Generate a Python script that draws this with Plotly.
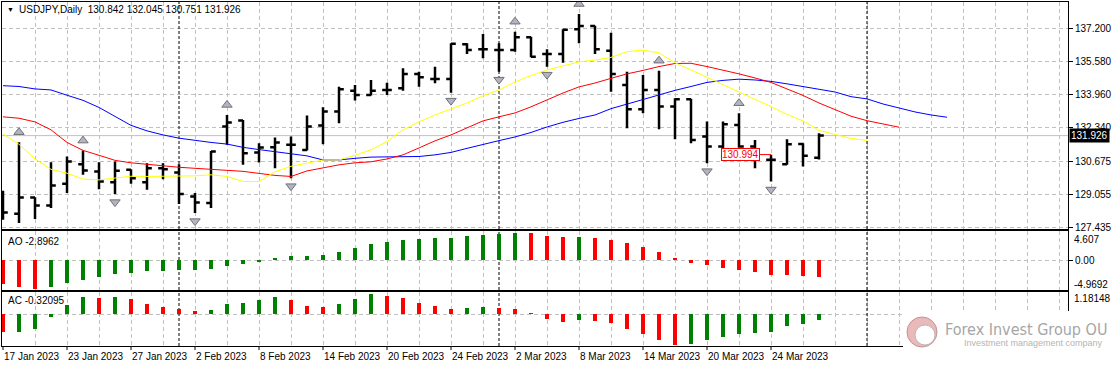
import numpy as np
import pandas as pd
import plotly.graph_objects as go

# ---------------- data ----------------
symbol = "USDJPY,Daily"
dates = pd.bdate_range("2023-01-17", "2023-03-29")          # 52 daily bars
month_starts = ["2023-02-01", "2023-03-01", "2023-04-03"]   # period separators

open_ = [128.525, 128.084, 128.884, 128.491, 129.556, 130.523, 130.160, 129.640, 130.244, 129.640,
         130.327, 130.111, 128.933, 128.609, 132.369, 132.664, 131.093, 131.358, 131.471, 131.225,
         132.418, 133.106, 134.136, 133.925, 134.171, 134.254, 134.956, 134.711, 134.711, 136.414,
         136.169, 136.134, 136.134, 136.758, 135.938, 135.938, 137.151, 137.313, 136.100, 134.416,
         133.223, 134.171, 133.351, 133.714, 131.878, 131.387, 132.453, 131.387, 130.734, 130.523,
         131.520, 130.842]
high = [129.213, 131.603, 128.900, 130.622, 130.896, 131.191, 130.622, 130.651, 130.278, 130.572,
        130.572, 130.523, 129.100, 131.176, 132.944, 132.698, 131.554, 131.829, 131.878, 132.909,
        133.322, 134.333, 134.416, 134.662, 134.529, 135.236, 135.069, 135.315, 136.463, 136.463,
        136.920, 136.463, 137.033, 136.780, 136.169, 137.151, 137.902, 137.330, 136.984, 135.069,
        134.907, 135.118, 133.763, 133.740, 132.615, 132.615, 133.027, 131.716, 130.980, 131.751,
        131.554, 132.045]
low = [127.789, 127.627, 127.823, 128.363, 129.100, 129.998, 129.296, 129.051, 129.556, 129.262,
       129.787, 128.560, 128.118, 128.363, 131.471, 130.489, 130.602, 130.327, 129.836, 131.200,
       131.505, 132.536, 133.646, 133.900, 133.925, 134.136, 134.333, 134.500, 134.038, 135.938,
       135.727, 135.069, 136.051, 135.776, 135.315, 135.511, 136.463, 135.938, 134.087, 132.291,
       133.027, 132.242, 131.751, 131.554, 130.572, 131.063, 131.324, 130.327, 129.669, 130.489,
       130.406, 130.751]
close = [128.147, 128.884, 128.491, 129.473, 130.651, 130.209, 129.669, 130.194, 129.836, 130.327,
         130.278, 129.051, 128.638, 131.142, 132.565, 131.063, 131.338, 131.584, 131.471, 132.369,
         133.106, 134.205, 133.925, 134.136, 134.171, 134.956, 134.794, 134.711, 136.440, 136.134,
         136.169, 136.134, 136.758, 135.800, 135.938, 137.130, 137.313, 136.169, 134.956, 133.223,
         134.171, 133.351, 133.714, 131.716, 131.387, 132.487, 131.387, 131.029, 130.734, 131.505,
         130.931, 131.926]

# Alligator lines (already shifted forward as drawn)
jaw = [134.38, 134.34, 134.22, 134.17, 133.91, 133.66, 133.31, 132.85, 132.43, 132.16,
       131.96, 131.80, 131.68, 131.59, 131.51, 131.35, 131.24, 131.13, 131.05, 130.93,
       130.73, 130.73, 130.81, 130.87, 130.88, 130.90, 130.90, 130.98, 131.10, 131.30,
       131.50, 131.68, 131.86, 132.08, 132.35, 132.58, 132.77, 132.94, 133.25, 133.48,
       133.70, 133.93, 134.15, 134.34, 134.54, 134.64, 134.70, 134.66, 134.59, 134.47,
       134.34, 134.20, 134.07, 133.84, 133.73, 133.48, 133.29, 133.09, 132.94, 132.83]
teeth = [132.85, 132.78, 132.60, 132.21, 131.59, 131.20, 130.96, 130.71, 130.59, 130.51,
         130.44, 130.37, 130.32, 130.27, 130.22, 130.17, 130.07, 129.97, 129.92, 130.19,
         130.34, 130.49, 130.59, 130.64, 130.78, 130.98, 131.32, 131.67, 131.96, 132.31,
         132.65, 132.85, 133.04, 133.34, 133.68, 134.02, 134.32, 134.51, 134.74, 134.96,
         135.13, 135.32, 135.47, 135.48, 135.32, 135.15, 134.96, 134.76, 134.54, 134.22,
         133.90, 133.53, 133.21, 132.88, 132.66, 132.50, 132.34]
lips = [132.01, 131.50, 130.78, 130.27, 130.08, 129.79, 129.75, 129.83, 129.93, 129.92,
        129.92, 129.93, 129.95, 130.00, 129.92, 129.67, 129.67, 130.15, 130.42, 130.57,
        130.73, 130.73, 130.96, 131.23, 131.63, 132.21, 132.60, 132.94, 133.24, 133.53,
        133.88, 134.17, 134.56, 134.88, 135.15, 135.35, 135.55, 135.64, 135.77, 136.05,
        136.13, 135.99, 135.51, 135.15, 134.79, 134.44, 134.10, 133.73, 133.35, 132.97,
        132.65, 132.18, 131.99, 131.79, 131.69]

up_fractals = [1, 5, 14, 32, 36, 41, 46]
down_fractals = [7, 12, 18, 28, 31, 34, 44, 48]

ao = [-4.07, -4.54, -4.9692, -4.54, -3.84, -3.36, -2.95, -2.42, -2.24, -1.89,
      -1.85, -1.71, -1.68, -1.53, -1.00, -0.65, -0.30, 0.35, 0.71, 0.74,
      0.94, 1.42, 2.01, 2.66, 3.01, 3.36, 3.54, 3.72, 3.76, 4.07,
      4.25, 4.37, 4.607, 4.55, 4.13, 3.90, 3.96, 3.78, 3.42, 2.89,
      2.18, 1.30, 0.41, -0.45, -0.90, -1.40, -1.72, -2.06, -2.55, -2.62,
      -2.75, -2.8962]
ac = [-1.08, -1.04, -0.85, -0.17, 0.54, 0.98, 0.97, 1.00, 0.87, 0.62,
      0.44, 0.31, 0.19, 0.25, 0.62, 0.68, 0.81, 1.00, 0.81, 0.50,
      0.44, 0.62, 0.87, 1.18148, 1.06, 0.93, 0.68, 0.50, 0.31, 0.37,
      0.44, 0.37, 0.31, 0.06, -0.29, -0.44, -0.37, -0.39, -0.50, -0.87,
      -1.18, -1.55, -1.80, -1.74, -1.55, -1.37, -1.18, -1.09, -1.05, -0.68,
      -0.56, -0.32095]

price_ticks = [127.435, 129.055, 130.675, 132.340, 133.960, 135.580, 137.200]
ao_scale_labels = [4.607, -4.9692]
ac_scale_label = 1.18148
label_bar, label_price = 48, 130.994

# ---------------- geometry (pixels) ----------------
W, H = 1114, 367
X0, X1 = 2, 1068
BAR_PX = 16
MAIN = (2, 229)
AOP = (231, 290)
ACP = (292, 346)


def ydom(p):
    return [1 - p[1] / H, 1 - p[0] / H]


xr0 = -(3 - X0) / BAR_PX
xr1 = xr0 + (X1 - X0) / BAR_PX
main_range = [127.337, 138.492]
ao_range = [-5.10, 4.95]
ac_range = [-1.88, 1.30]
px_per_price = (MAIN[1] - MAIN[0]) / (main_range[1] - main_range[0])

FONT = "Liberation Sans, Arial, sans-serif"
GRID = "#c0c0c0"
GDASH = "4px,3px"
GREEN, RED = "#008000", "#ff0000"

idx = list(range(len(close)))

fig = go.Figure()

fig.add_trace(go.Ohlc(
    x=idx, open=open_, high=high, low=low, close=close,
    increasing=dict(line=dict(color="black", width=2.5)),
    decreasing=dict(line=dict(color="black", width=2.5)),
    tickwidth=0.3, hoverinfo="skip", xaxis="x", yaxis="y"))

for vals, col in [(jaw, "#0000ff"), (teeth, "#ff0000"), (lips, "#ffff00")]:
    fig.add_trace(go.Scatter(x=list(range(len(vals))), y=vals, mode="lines",
                             line=dict(color=col, width=1), hoverinfo="skip",
                             xaxis="x", yaxis="y"))

off_up = 10 / px_per_price
off_dn = 8 / px_per_price
fig.add_trace(go.Scatter(
    x=up_fractals, y=[high[i] + off_up for i in up_fractals], mode="markers",
    marker=dict(symbol="triangle-up", size=9, color="#b4b4c0",
                line=dict(color="#70707c", width=1)),
    hoverinfo="skip", xaxis="x", yaxis="y"))
fig.add_trace(go.Scatter(
    x=down_fractals, y=[low[i] - off_dn for i in down_fractals], mode="markers",
    marker=dict(symbol="triangle-down", size=9, color="#b4b4c0",
                line=dict(color="#70707c", width=1)),
    hoverinfo="skip", xaxis="x", yaxis="y"))


def hist_colors(v):
    return [RED if i == 0 or v[i] <= v[i - 1] else GREEN for i in range(len(v))]


fig.add_trace(go.Bar(x=idx, y=ao, width=0.19, marker=dict(color=hist_colors(ao), line=dict(width=0)),
                     hoverinfo="skip", xaxis="x2", yaxis="y2"))
fig.add_trace(go.Bar(x=idx, y=ac, width=0.19, marker=dict(color=hist_colors(ac), line=dict(width=0)),
                     hoverinfo="skip", xaxis="x3", yaxis="y3"))

# ---------------- axes ----------------
grid_vals = list(range(2, int(xr1) + 1, 2))
label_idx = idx[::4]
label_txt = [f"{d.day} {d.strftime('%b %Y')}" for d in dates[::4]]


def xaxis_cfg(anchor):
    return dict(anchor=anchor, range=[xr0, xr1], domain=[X0 / W, X1 / W], showline=True,
                mirror=True, linecolor="black", linewidth=1, zeroline=False,
                showgrid=True, gridcolor=GRID, griddash=GDASH, gridwidth=1,
                tickmode="array", tickvals=grid_vals,
                ticktext=[""] * len(grid_vals), showticklabels=False, ticks="",
                automargin=False, fixedrange=True)


fig.update_layout(
    width=W, height=H, margin=dict(l=0, r=0, t=0, b=0),
    paper_bgcolor="white", plot_bgcolor="white", showlegend=False, hovermode=False,
    font=dict(family=FONT, size=10, color="black"), bargap=0,
    xaxis=dict(xaxis_cfg("y"), rangeslider=dict(visible=False)),
    xaxis2=xaxis_cfg("y2"),
    xaxis3=xaxis_cfg("y3"),
    yaxis=dict(domain=ydom(MAIN), range=main_range, side="right", anchor="x",
               tickmode="array", tickvals=price_ticks, ticktext=[f"{v:.3f}" for v in price_ticks],
               ticks="outside", ticklen=4, tickcolor="black", showgrid=True, gridcolor=GRID,
               griddash=GDASH, showline=True, mirror=True, linecolor="black", zeroline=False,
               automargin=False, fixedrange=True),
    yaxis2=dict(domain=ydom(AOP), range=ao_range, side="right", anchor="x2",
                tickmode="array", tickvals=[0], ticktext=["0.00"], ticks="outside", ticklen=4,
                tickcolor="black", showgrid=True, gridcolor=GRID, griddash=GDASH,
                showline=True, mirror=True, linecolor="black", zeroline=False,
                automargin=False, fixedrange=True),
    yaxis3=dict(domain=ydom(ACP), range=ac_range, side="right", anchor="x3",
                tickmode="array", tickvals=[0], ticktext=[""], ticks="", showgrid=True,
                gridcolor=GRID, griddash=GDASH, showline=True, mirror=True,
                linecolor="black", zeroline=False, automargin=False, fixedrange=True),
)

# ---------------- shapes ----------------
shapes = []
sep_idx = [int(np.busday_count(dates[0].strftime("%Y-%m-%d"), m)) for m in month_starts]
for s in sep_idx:
    for xa, ya, rng in [("x", "y", main_range), ("x2", "y2", ao_range), ("x3", "y3", ac_range)]:
        shapes.append(dict(type="line", xref=xa, yref=ya, x0=s, x1=s, y0=rng[0], y1=rng[1],
                           line=dict(color="black", width=1, dash="3px,2px"), layer="between"))
shapes.append(dict(type="line", xref="x", yref="y", x0=xr0, x1=xr1, y0=close[-1], y1=close[-1],
                   line=dict(color="#c0c0c0", width=1), layer="between"))
# date tick marks below the bottom panel
for i in label_idx:
    shapes.append(dict(type="line", xref="x3", yref="paper", x0=i, x1=i,
                       y0=1 - (ACP[1] + 4) / H, y1=1 - ACP[1] / H,
                       line=dict(color="black", width=1), layer="above"))
# watermark
shapes.append(dict(type="rect", xref="paper", yref="paper", x0=903 / W, x1=1.0,
                   y0=1 - 356 / H, y1=1 - 311 / H, fillcolor="white", line=dict(width=0),
                   layer="above"))
shapes.append(dict(type="circle", xref="paper", yref="paper", x0=907 / W, x1=937 / W,
                   y0=1 - 347 / H, y1=1 - 317 / H, fillcolor="#eab9b9",
                   line=dict(color="#c98f8f", width=1), layer="above"))
shapes.append(dict(type="circle", xref="paper", yref="paper", x0=915 / W, x1=935 / W,
                   y0=1 - 345 / H, y1=1 - 325 / H, fillcolor="#ffffff",
                   line=dict(color="#b9b9b9", width=1), layer="above"))
fig.update_layout(shapes=shapes)

# ---------------- annotations ----------------
ann = []
for i, t in zip(label_idx, label_txt):
    ann.append(dict(xref="x3", yref="paper", x=i, y=1 - 356 / H, xanchor="left", yanchor="middle",
                    xshift=-1, text=t, showarrow=False, font=dict(size=10, color="black")))
ann.append(dict(xref="paper", yref="paper", x=5 / W, y=1 - 9 / H, xanchor="left", yanchor="middle",
                text="▼", showarrow=False, font=dict(size=7, color="black")))
ann.append(dict(xref="paper", yref="paper", x=17 / W, y=1 - 9 / H, xanchor="left", yanchor="middle",
                text=f"{symbol}  {open_[-1]:.3f} {high[-1]:.3f} {low[-1]:.3f} {close[-1]:.3f}",
                showarrow=False, font=dict(size=10, color="black")))
ann.append(dict(xref="paper", yref="paper", x=6 / W, y=1 - 241 / H, xanchor="left", yanchor="middle",
                text=f"AO {ao[-1]:.4f}", showarrow=False, font=dict(size=10)))
ann.append(dict(xref="paper", yref="paper", x=6 / W, y=1 - 300 / H, xanchor="left", yanchor="middle",
                text=f"AC {ac[-1]:.5f}", showarrow=False, font=dict(size=10)))
ann.append(dict(xref="paper", yref="y2", x=1072 / W, y=ao_scale_labels[0], yshift=-6,
                xanchor="left", yanchor="middle", text=f"{ao_scale_labels[0]:.3f}",
                showarrow=False, font=dict(size=10)))
ann.append(dict(xref="paper", yref="y2", x=1072 / W, y=ao_scale_labels[1], yshift=5,
                xanchor="left", yanchor="middle", text=f"{ao_scale_labels[1]:.4f}",
                showarrow=False, font=dict(size=10)))
ann.append(dict(xref="paper", yref="y3", x=1072 / W, y=ac_scale_label, yshift=-4,
                xanchor="left", yanchor="middle", text=f"{ac_scale_label:.5f}",
                showarrow=False, font=dict(size=10)))
ann.append(dict(xref="paper", yref="y", x=1069 / W, y=close[-1], xanchor="left", yanchor="middle",
                text=f"{close[-1]:.3f}", showarrow=False, bgcolor="black", borderpad=1,
                font=dict(size=10, color="white")))
ann.append(dict(xref="x", yref="y", x=label_bar, y=label_price, text=f"{label_price:.3f}",
                showarrow=True, arrowhead=0, arrowwidth=1, arrowcolor="red", ax=-31, ay=0,
                bordercolor="red", borderwidth=1, borderpad=0, bgcolor="white",
                font=dict(size=10, color="red")))
ann.append(dict(xref="paper", yref="paper", x=943 / W, y=1 - 329 / H, xanchor="left",
                yanchor="middle", text="Forex Invest Group OU", showarrow=False,
                font=dict(family="Liberation Sans Narrow, DejaVu Sans Condensed, sans-serif",
                          size=16, color="#a6a6a6")))
ann.append(dict(xref="paper", yref="paper", x=962 / W, y=1 - 343 / H, xanchor="left",
                yanchor="middle", text="Investment management company", showarrow=False,
                font=dict(size=9, color="#b4b4b4")))
fig.update_layout(annotations=ann)

fig.write_html("out.html", config={"displayModeBar": False, "staticPlot": True},
               post_script="document.body.style.margin='0';document.body.style.overflow='hidden';")
